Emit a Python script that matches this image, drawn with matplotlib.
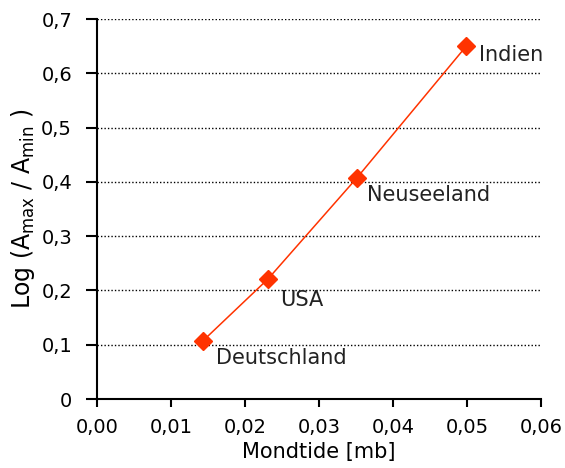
import numpy as np
import matplotlib.pyplot as plt
from matplotlib.ticker import FixedLocator

# data
laender = ['Deutschland', 'USA', 'Neuseeland', 'Indien']
mondtide = [0.0143, 0.0231, 0.0351, 0.0499]
log_ratio = [0.107, 0.221, 0.407, 0.650]

xticks = [0.00, 0.01, 0.02, 0.03, 0.04, 0.05, 0.06]
xticklabels = ['0,00', '0,01', '0,02', '0,03', '0,04', '0,05', '0,06']
yticks = [0, 0.1, 0.2, 0.3, 0.4, 0.5, 0.6, 0.7]
yticklabels = ['0', '0,1', '0,2', '0,3', '0,4', '0,5', '0,6', '0,7']

# label offsets in pixels relative to the point
offsets = [(13, -17), (12, -21), (10, -17), (13, -9)]

plt.rcParams['mathtext.default'] = 'regular'
plt.rcParams['xtick.labelsize'] = 14
plt.rcParams['ytick.labelsize'] = 14
plt.rcParams['xtick.major.pad'] = 8
plt.rcParams['ytick.major.pad'] = 10

fig = plt.figure(figsize=(5.65, 4.68), dpi=100)
ax = fig.add_axes([0.1717, 0.1474, 0.7858, 0.812])

ax.plot(mondtide, log_ratio, '-', color='#ff3300', lw=1.1, marker='D', ms=9,
        mfc='#ff3300', mec='#ff3300', zorder=3)

for name, x, y, off in zip(laender, mondtide, log_ratio, offsets):
    ax.annotate(name, (x, y), xytext=off, textcoords='offset pixels',
                ha='left', va='center', fontsize=15, color='#222222')

ax.set_xlim(0, 0.06)
ax.set_ylim(0, 0.7)
ax.xaxis.set_major_locator(FixedLocator(xticks))
ax.set_xticklabels(xticklabels)
ax.yaxis.set_major_locator(FixedLocator(yticks))
ax.set_yticklabels(yticklabels)

for yy in yticks[1:]:
    ax.axhline(yy, color='black', lw=1.0, ls=(0, (1, 1.5)), zorder=1)

ax.spines['top'].set_visible(False)
ax.spines['right'].set_visible(False)
ax.spines['left'].set_linewidth(1.5)
ax.spines['bottom'].set_linewidth(1.5)
ax.tick_params(axis='x', direction='out', length=5.5, width=1.5)
ax.tick_params(axis='y', direction='out', length=8, width=1.5)

ax.set_xlabel('Mondtide [mb]', fontsize=15, labelpad=4)
ax.set_ylabel('Log (A$_{max}$ / A$_{min}$ )', fontsize=17, labelpad=3)

fig.savefig('out.png', dpi=100)
